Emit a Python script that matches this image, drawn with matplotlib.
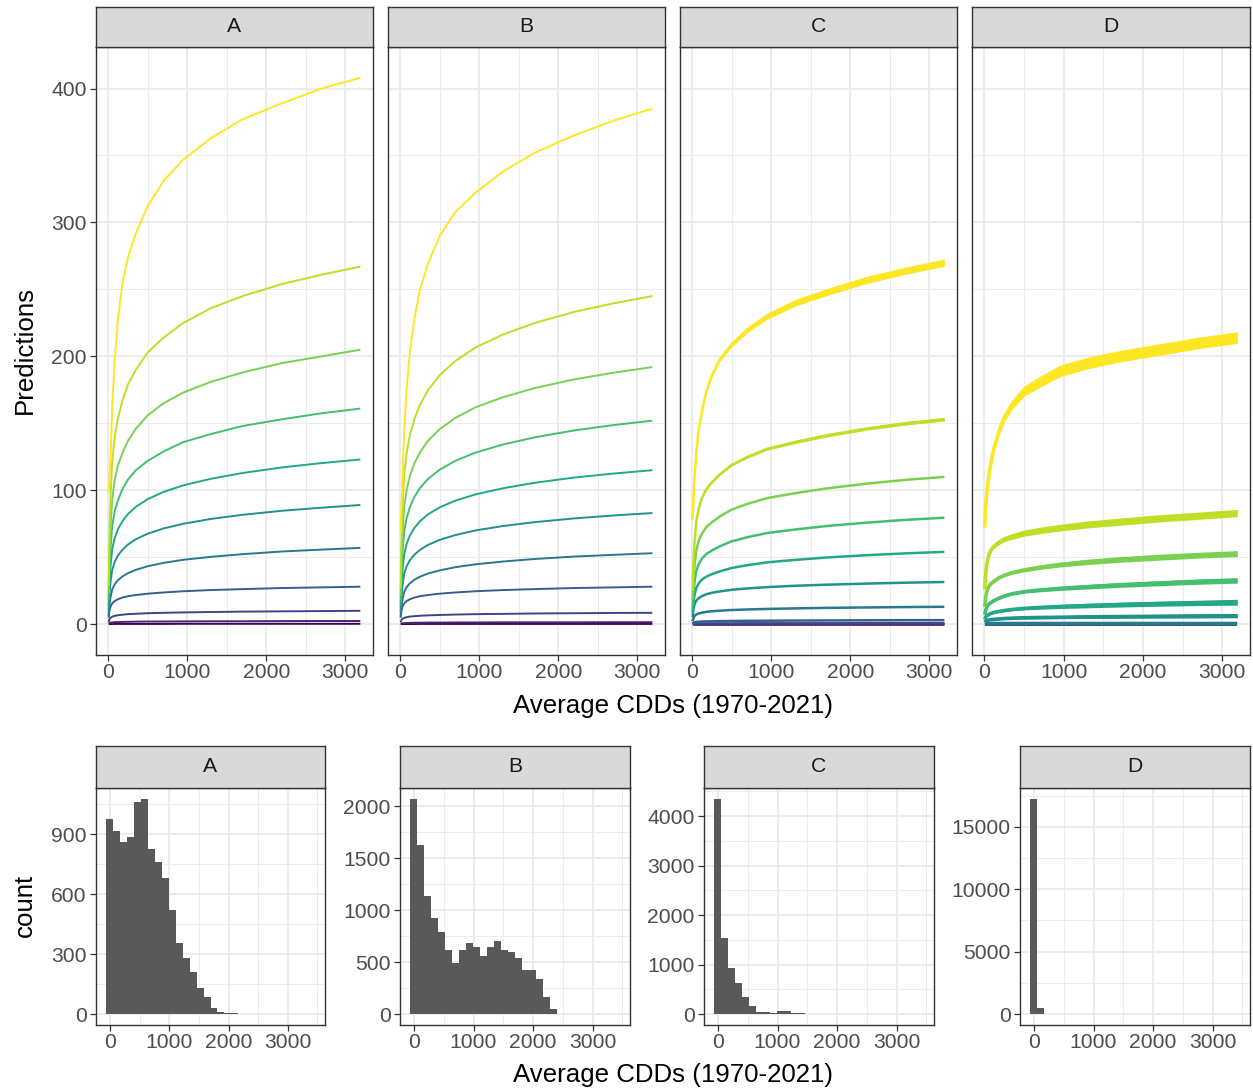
import numpy as np
import matplotlib
matplotlib.use("Agg")
import matplotlib.pyplot as plt
from matplotlib.ticker import MultipleLocator, FixedLocator

plt.rcParams['font.family'] = ['Liberation Sans', 'DejaVu Sans']

# ---------------- data ----------------
panels = ["A", "B", "C", "D"]
cdd_grid = [5, 15, 30, 50, 80, 120, 180, 250, 350, 500, 700, 950, 1300, 1700,
            2200, 2700, 3190]

# predictions per group, lowest group (purple) -> highest (yellow)
pred_A = [
    [0.1, 0.1, 0.1, 0.1, 0.2, 0.2, 0.2, 0.2, 0.2, 0.2, 0.2, 0.3, 0.3, 0.3, 0.3, 0.3, 0.3],
    [0.4, 0.9, 1.2, 1.3, 1.5, 1.6, 1.7, 1.8, 1.9, 2.0, 2.0, 2.1, 2.2, 2.2, 2.3, 2.4, 2.4],
    [1.7, 3.6, 4.8, 5.6, 6.2, 6.7, 7.1, 7.5, 7.8, 8.2, 8.5, 8.8, 9.1, 9.4, 9.6, 9.8, 10.0],
    [4.8, 10.1, 13.4, 15.5, 17.2, 18.6, 19.9, 20.9, 21.8, 22.8, 23.7, 24.6, 25.5, 26.2, 27.0, 27.5, 28.0],
    [6.3, 14.3, 20.5, 25.9, 29.6, 32.7, 35.7, 38.1, 40.6, 43.3, 45.8, 48.1, 50.3, 52.3, 54.3, 55.7, 57.0],
    [9.8, 22.3, 32.0, 40.5, 46.3, 51.1, 55.7, 59.5, 63.5, 67.6, 71.5, 75.0, 78.6, 81.7, 84.7, 87.0, 89.0],
    [13.5, 30.8, 44.3, 56.0, 64.0, 70.6, 77.0, 82.3, 87.7, 93.4, 98.8, 103.7, 108.6, 112.9, 117.1, 120.3, 123.0],
    [18, 40, 58, 73, 84, 92, 101, 108, 115, 122, 129, 136, 142, 148, 153, 157.5, 161],
    [23, 51, 74, 93, 107, 118, 128, 137, 146, 156, 165, 173, 181, 188, 195, 200, 205],
    [29, 67, 96, 121, 139, 153, 167, 179, 190, 203, 214, 225, 236, 245, 254, 261, 267],
    [98, 110, 126, 162, 195, 226, 255, 274, 292, 312, 331, 347, 363, 377, 389, 400, 408],
]
pred_B = [
    [0.1, 0.1, 0.1, 0.1, 0.1, 0.1, 0.1, 0.2, 0.2, 0.2, 0.2, 0.2, 0.2, 0.2, 0.2, 0.2, 0.2],
    [0.3, 0.5, 0.7, 0.8, 0.9, 1.0, 1.1, 1.1, 1.2, 1.2, 1.3, 1.3, 1.4, 1.4, 1.4, 1.5, 1.5],
    [1.4, 3.1, 4.1, 4.7, 5.2, 5.7, 6.0, 6.3, 6.6, 6.9, 7.2, 7.5, 7.7, 8.0, 8.2, 8.4, 8.5],
    [4.8, 10.1, 13.4, 15.5, 17.2, 18.6, 19.9, 20.9, 21.8, 22.8, 23.7, 24.6, 25.5, 26.2, 27.0, 27.5, 28.0],
    [5.8, 13.3, 19.1, 24.1, 27.6, 30.4, 33.2, 35.5, 37.8, 40.2, 42.6, 44.7, 46.8, 48.7, 50.5, 51.8, 53.0],
    [9.1, 20.8, 29.9, 37.8, 43.2, 47.6, 52.0, 55.5, 59.2, 63.0, 66.6, 70.0, 73.3, 76.2, 79.0, 81.2, 83.0],
    [12.7, 28.8, 41.4, 52.3, 59.8, 66.0, 72.0, 76.9, 82.0, 87.3, 92.3, 96.9, 101.5, 105.6, 109.5, 112.5, 115.0],
    [16.7, 38.0, 54.7, 69.2, 79.0, 87.2, 95.2, 101.7, 108.4, 115.4, 122.1, 128.1, 134.2, 139.5, 144.7, 148.7, 152.0],
    [21.1, 48.0, 69.1, 87.4, 99.8, 110.2, 120.2, 128.4, 136.9, 145.7, 154.2, 161.9, 169.5, 176.3, 182.8, 187.8, 192.0],
    [27.0, 61.3, 88.2, 111.5, 127.4, 140.6, 153.4, 163.9, 174.7, 186.0, 196.7, 206.5, 216.3, 224.9, 233.2, 239.6, 245.0],
    [68, 88, 112, 145, 175, 202, 228, 250, 269, 290, 308, 322, 338, 352, 365, 376, 385],
]
pred_C = [
    [0.1, 0.1, 0.1, 0.1, 0.1, 0.1, 0.1, 0.1, 0.1, 0.1, 0.1, 0.1, 0.1, 0.1, 0.1, 0.1, 0.1],
    [0.1, 0.1, 0.1, 0.1, 0.2, 0.2, 0.2, 0.2, 0.2, 0.2, 0.2, 0.2, 0.2, 0.2, 0.2, 0.2, 0.2],
    [0.2, 0.3, 0.3, 0.4, 0.4, 0.4, 0.5, 0.5, 0.5, 0.5, 0.6, 0.6, 0.6, 0.6, 0.7, 0.7, 0.7],
    [0.5, 1.1, 1.4, 1.7, 1.8, 2.0, 2.1, 2.2, 2.3, 2.4, 2.5, 2.6, 2.7, 2.8, 2.9, 3.0, 3.0],
    [2.2, 4.7, 6.2, 7.2, 8.0, 8.6, 9.2, 9.7, 10.1, 10.6, 11.0, 11.4, 11.8, 12.2, 12.5, 12.8, 13.0],
    [5.4, 11.3, 15.1, 17.5, 19.4, 20.9, 22.4, 23.5, 24.5, 25.7, 26.7, 27.7, 28.7, 29.5, 30.3, 31.0, 31.5],
    [8.8, 15.9, 21.9, 26.8, 30.3, 33.2, 35.6, 37.4, 39.5, 42.0, 44.1, 46.2, 48.0, 49.8, 51.5, 52.9, 54.0],
    [13.0, 23.4, 32.2, 39.5, 44.7, 48.8, 52.5, 55.1, 58.2, 61.9, 65.0, 68.1, 70.7, 73.3, 75.8, 77.9, 79.5],
    [18.0, 32.0, 44.6, 54.7, 61.8, 67.5, 72.6, 76.2, 80.5, 85.6, 89.9, 94.2, 97.8, 101.4, 104.9, 107.8, 110.0],
    [25, 45, 62, 76, 86, 94, 101, 106, 112, 119, 125, 131, 136, 141, 146, 150, 153],
    [78, 93, 110, 127, 145, 158, 174, 186, 198, 209, 220, 230, 240, 248, 257, 264, 270],
]
pred_D = [
    [0.1, 0.1, 0.1, 0.1, 0.1, 0.1, 0.1, 0.1, 0.1, 0.1, 0.1, 0.1, 0.1, 0.1, 0.1, 0.1, 0.1],
    [0.1, 0.1, 0.1, 0.1, 0.1, 0.1, 0.1, 0.1, 0.1, 0.1, 0.1, 0.1, 0.1, 0.1, 0.1, 0.1, 0.1],
    [0.2, 0.2, 0.2, 0.2, 0.2, 0.2, 0.2, 0.2, 0.2, 0.2, 0.2, 0.2, 0.2, 0.2, 0.2, 0.2, 0.2],
    [0.3, 0.3, 0.3, 0.3, 0.3, 0.3, 0.3, 0.3, 0.3, 0.3, 0.3, 0.3, 0.3, 0.3, 0.3, 0.3, 0.3],
    [0.4, 0.4, 0.4, 0.4, 0.4, 0.5, 0.5, 0.5, 0.5, 0.5, 0.5, 0.5, 0.5, 0.5, 0.5, 0.5, 0.5],
    [1.5, 2.1, 2.6, 3.0, 3.3, 3.6, 3.9, 4.2, 4.5, 4.8, 5.0, 5.2, 5.5, 5.7, 5.9, 6.1, 6.3],
    [3.5, 5.0, 6.2, 7.0, 8.0, 8.7, 9.5, 10.2, 11.0, 11.8, 12.5, 13.2, 13.9, 14.6, 15.3, 15.9, 16.4],
    [7.0, 10.0, 12.5, 14.5, 16.0, 17.5, 19.3, 21.0, 22.7, 24.3, 25.5, 26.7, 28.0, 29.3, 30.6, 31.8, 32.7],
    [13.0, 19.0, 24.0, 27.5, 30.0, 32.0, 34.5, 36.5, 38.5, 40.5, 42.5, 44.5, 46.5, 48.3, 50.0, 51.5, 52.7],
    [26.0, 36.0, 44.0, 50.0, 55.0, 58.0, 61.0, 63.5, 65.5, 68.0, 70.0, 72.0, 74.5, 76.5, 79.0, 81.0, 83.0],
    [72, 85, 97, 108, 119, 131, 143, 154, 164, 174, 181, 189, 195, 200, 205, 210, 214],
]

# half-width of the spread of predictions (visible as thick bands), by group index
spread_C = {
    9: [0.3, 0.3, 0.4, 0.4, 0.5, 0.5, 0.6, 0.6, 0.7, 0.8, 0.9, 1.0, 1.1, 1.2, 1.2, 1.3, 1.3],
    10: [0.5, 0.6, 0.7, 0.8, 0.9, 1.1, 1.3, 1.5, 1.7, 1.9, 2.1, 2.3, 2.5, 2.6, 2.7, 2.7, 2.7],
}
spread_D = {
    5: [0.3, 0.3, 0.4, 0.4, 0.5, 0.5, 0.6, 0.7, 0.8, 0.9, 1.0, 1.1, 1.2, 1.3, 1.4, 1.5, 1.5],
    6: [0.3, 0.3, 0.4, 0.5, 0.6, 0.7, 0.8, 0.9, 1.0, 1.1, 1.3, 1.5, 1.7, 1.8, 1.9, 2.0, 2.2],
    7: [0.3, 0.35, 0.4, 0.5, 0.6, 0.7, 0.8, 0.9, 1.0, 1.1, 1.3, 1.5, 1.7, 1.8, 1.9, 2.0, 2.0],
    8: [0.4, 0.5, 0.6, 0.7, 0.8, 0.9, 1.0, 1.1, 1.2, 1.4, 1.6, 1.8, 2.0, 2.1, 2.2, 2.2, 2.2],
    9: [0.5, 0.7, 0.9, 1.1, 1.3, 1.5, 1.7, 1.9, 2.1, 2.3, 2.4, 2.5, 2.6, 2.7, 2.7, 2.7, 2.7],
    10: [0.8, 1.0, 1.4, 1.8, 2.2, 2.6, 3.0, 3.3, 3.6, 3.9, 4.1, 4.3, 4.3, 4.3, 4.3, 4.3, 4.3],
}

preds = {"A": pred_A, "B": pred_B, "C": pred_C, "D": pred_D}
spreads = {"A": {}, "B": {}, "C": spread_C, "D": spread_D}
line_w = {"A": 1.4, "B": 1.4, "C": 1.8, "D": 2.6}

# histogram counts (bin width ~117 CDD, first bin centred on 0)
bin_width = 117
count_A = [978, 917, 863, 888, 1062, 1078, 825, 762, 682, 520, 358, 283, 213,
           133, 87, 32, 13, 7, 5]
count_B = [2074, 1625, 1138, 929, 792, 619, 497, 619, 689, 651, 561, 651, 705,
           619, 599, 545, 426, 426, 337, 167, 48, 6]
count_C = [4350, 1546, 928, 639, 356, 168, 54, 54, 34, 60, 60, 20, 20]
count_D = [17240, 506]
counts = {"A": count_A, "B": count_B, "C": count_C, "D": count_D}
hist_ymajor = {"A": 300, "B": 500, "C": 1000, "D": 5000}

xlabel = "Average CDDs (1970-2021)"

# ---------------- style ----------------
W, H = 1253, 1088
fig = plt.figure(figsize=(W / 100, H / 100), dpi=100)
BORDER = "#333333"
GRID = "#EBEBEB"
TICKLAB = "#4D4D4D"
TICK_FS = 15.2
TITLE_FS = 18.6
colors = plt.cm.viridis(np.linspace(0, 1, 11))


def add_axes_px(x0, x1, y0, y1):
    return fig.add_axes([x0 / W, 1 - y1 / H, (x1 - x0) / W, (y1 - y0) / H])


def style(ax, show_y=True):
    ax.set_facecolor("white")
    for s in ax.spines.values():
        s.set_color(BORDER)
        s.set_linewidth(1.0)
    ax.grid(True, which="major", color=GRID, lw=1.3, zorder=0)
    ax.grid(True, which="minor", color=GRID, lw=0.65, zorder=0)
    ax.set_axisbelow(True)
    ax.tick_params(which="major", length=4.3, width=0.9, color=BORDER,
                   labelcolor=TICKLAB, labelsize=TICK_FS)
    ax.tick_params(axis="x", which="major", pad=1.5)
    ax.tick_params(axis="y", which="major", pad=2.5)
    ax.tick_params(which="minor", length=0)
    if not show_y:
        ax.tick_params(axis="y", which="major", length=0, labelleft=False)


def strip(x0, x1, y0, y1, label):
    s = add_axes_px(x0, x1, y0, y1)
    s.set_facecolor("#D9D9D9")
    for sp in s.spines.values():
        sp.set_color(BORDER)
        sp.set_linewidth(1.0)
    s.set_xticks([])
    s.set_yticks([])
    s.text(0.5, 0.5, label, ha="center", va="center", fontsize=TICK_FS,
           color="#1A1A1A", transform=s.transAxes)


top_x = {"A": (96, 373), "B": (388, 665), "C": (680, 957), "D": (972, 1250)}
bot_x = {"A": (96, 325), "B": (400, 630), "C": (704, 934), "D": (1020, 1250)}

# ---------------- top row: predictions ----------------
for p in panels:
    x0, x1 = top_x[p]
    ax = add_axes_px(x0, x1, 47, 655)
    strip(x0, x1, 7, 47, p)
    style(ax, show_y=(p == "A"))
    x = np.array(cdd_grid, dtype=float)
    for gi, yv in enumerate(preds[p]):
        yv = np.array(yv, dtype=float)
        if gi in spreads[p]:
            hw = np.array(spreads[p][gi])
            ax.fill_between(x, yv - hw, yv + hw, color=colors[gi], lw=0,
                            zorder=2 + gi * 0.01)
        ax.plot(x, yv, color=colors[gi], lw=line_w[p],
                solid_capstyle="butt", solid_joinstyle="round",
                zorder=2 + gi * 0.01)
    ax.set_xlim(-155, 3350)
    ax.set_ylim(-23, 431)
    ax.xaxis.set_major_locator(FixedLocator([0, 1000, 2000, 3000]))
    ax.xaxis.set_minor_locator(FixedLocator([500, 1500, 2500]))
    ax.yaxis.set_major_locator(FixedLocator([0, 100, 200, 300, 400]))
    ax.yaxis.set_minor_locator(FixedLocator([50, 150, 250, 350]))

fig.text(25 / W, 1 - 350 / H, "Predictions", rotation=90, ha="center",
         va="center", fontsize=TITLE_FS, color="black")
fig.text(673 / W, 1 - 706 / H, xlabel, ha="center", va="center",
         fontsize=TITLE_FS, color="black")

# ---------------- bottom row: histograms ----------------
for p in panels:
    x0, x1 = bot_x[p]
    ax = add_axes_px(x0, x1, 788, 1025)
    strip(x0, x1, 746, 788, p)
    style(ax, show_y=True)
    c = counts[p]
    centers = np.arange(len(c)) * bin_width
    ax.bar(centers, c, width=bin_width, color="#595959", lw=0, zorder=2)
    ymax = max(c)
    ax.set_ylim(-0.05 * ymax, 1.05 * ymax)
    ax.set_xlim(-234, 3627)
    step = hist_ymajor[p]
    ax.yaxis.set_major_locator(MultipleLocator(step))
    ax.yaxis.set_minor_locator(MultipleLocator(step / 2))
    ax.xaxis.set_major_locator(FixedLocator([0, 1000, 2000, 3000]))
    ax.xaxis.set_minor_locator(FixedLocator([500, 1500, 2500, 3500]))

fig.text(25 / W, 1 - 905 / H, "count", rotation=90, ha="center",
         va="center", fontsize=TITLE_FS, color="black")
fig.text(673 / W, 1 - 1075 / H, xlabel, ha="center", va="center",
         fontsize=TITLE_FS, color="black")

fig.savefig("out.png", dpi=100, facecolor="white")
